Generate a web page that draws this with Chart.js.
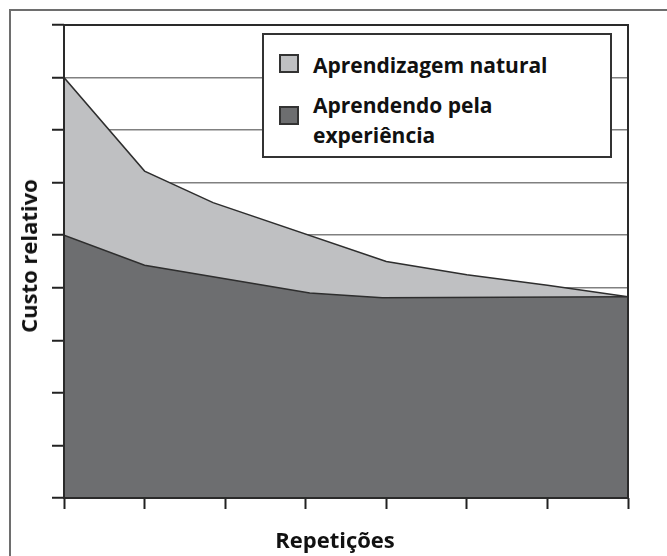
<!DOCTYPE html>
<html>
<head>
<meta charset="utf-8">
<script src="https://cdn.jsdelivr.net/npm/chart.js@4"></script>
<style>
  html, body { margin: 0; padding: 0; background: #fff; }
  #wrap { position: relative; width: 667px; height: 556px; overflow: hidden; font-family: 'Open Sans', sans-serif; font-weight: 700; color: #111; }
  #chartBox { position: absolute; left: 0; top: 0; width: 667px; height: 556px; }
  .frame { position: absolute; left: 9px; top: 9px; width: 700px; height: 600px; border: 2px solid #6e6e6e; }
  .legend { position: absolute; left: 262px; top: 33px; width: 346px; height: 121px; border: 2px solid #333; background: #fff; }
  .legend .item { position: absolute; left: 49px; font-size: 21px; line-height: 30px; white-space: nowrap; }
  .legend .sw { position: absolute; left: 15px; width: 16px; height: 15px; border: 2px solid #333; }
  .ytitle { position: absolute; left: 28px; top: 256px; transform: translate(-50%, -50%) rotate(-90deg); font-size: 22px; white-space: nowrap; }
  .xtitle { position: absolute; left: 335px; top: 539px; transform: translate(-50%, -50%); font-size: 22px; white-space: nowrap; }
</style>
</head>
<body>
<div id="wrap">
  <div class="frame"></div>
  <div id="chartBox"><canvas id="learnChart"></canvas></div>
  <div class="legend">
    <div class="sw" style="top:19px; background:#bfc0c2;"></div>
    <div class="item" style="top:15px;" id="leg1"></div>
    <div class="sw" style="top:71px; background:#6d6e70;"></div>
    <div class="item" style="top:55px;" id="leg2"></div>
  </div>
  <div class="ytitle">Custo relativo</div>
  <div class="xtitle">Repetições</div>
</div>
<script>
// dados
const naturalX = [0, 1, 1.85, 4, 5, 6, 7];
const naturalY = [8.0, 6.22, 5.62, 4.5, 4.25, 4.05, 3.83];
const experienceX = [0, 1, 3.05, 3.95, 7];
const experienceY = [5.0, 4.43, 3.9, 3.81, 3.83];
const seriesNames = ['Aprendizagem natural', 'Aprendendo pela<br>experiência'];
const xTicks = [0, 1, 2, 3, 4, 5, 6, 7];
const yMax = 9;

document.getElementById('leg1').innerHTML = seriesNames[0];
document.getElementById('leg2').innerHTML = seriesNames[1];

const toPoints = (xs, ys) => xs.map((x, i) => ({ x: x, y: ys[i] }));

// moldura da área do gráfico por cima das áreas
const frame = {
  id: 'frame',
  afterDatasetsDraw(chart) {
    const { ctx, chartArea: a } = chart;
    ctx.save();
    ctx.strokeStyle = '#2a2a2a';
    ctx.lineWidth = 2;
    ctx.strokeRect(a.left, a.top, a.right - a.left, a.bottom - a.top);
    ctx.restore();
  },
};

new Chart(document.getElementById('learnChart'), {
  type: 'line',
  data: {
    datasets: [
      {
        label: seriesNames[0],
        data: toPoints(naturalX, naturalY),
        backgroundColor: '#bfc0c2',
        borderColor: '#2e2e2e',
        borderWidth: 1.5,
        fill: 'origin',
        order: 1,
      },
      {
        label: seriesNames[1],
        data: toPoints(experienceX, experienceY),
        backgroundColor: '#6d6e70',
        borderColor: '#2e2e2e',
        borderWidth: 1.5,
        fill: 'origin',
        order: 0,
      },
    ],
  },
  options: {
    responsive: true,
    maintainAspectRatio: false,
    animation: false,
    layout: { padding: { left: 52, right: 39, top: 25, bottom: 47 } },
    elements: { line: { tension: 0 }, point: { radius: 0 } },
    plugins: { legend: { display: false }, tooltip: { enabled: false } },
    scales: {
      x: {
        type: 'linear',
        min: xTicks[0],
        max: xTicks[xTicks.length - 1],
        afterBuildTicks: (s) => { s.ticks = xTicks.map((v) => ({ value: v })); },
        ticks: { display: false },
        grid: { drawOnChartArea: false, tickLength: 11, tickColor: '#222', tickWidth: 2 },
        border: { display: false },
      },
      y: {
        min: 0,
        max: yMax,
        ticks: { display: false, stepSize: 1 },
        grid: { color: '#808080', lineWidth: 1.5, tickLength: 12, tickColor: '#222', tickWidth: 2 },
        border: { display: false },
      },
    },
  },
  plugins: [frame],
});
</script>
</body>
</html>
